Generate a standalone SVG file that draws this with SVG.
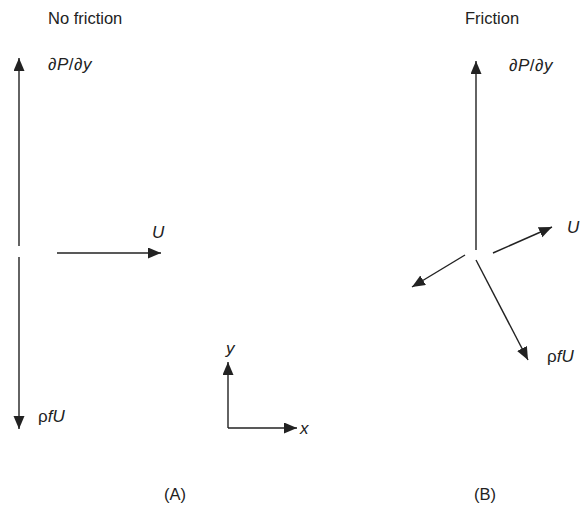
<svg xmlns="http://www.w3.org/2000/svg" width="587" height="515" viewBox="0 0 587 515">
<style>
text{font-family:"Liberation Sans",Arial,sans-serif;font-size:16.5px;fill:#222}
.i{font-style:italic}
.m{font-size:17px}
.a{stroke:#222;stroke-width:1.4;fill:none;marker-end:url(#ah)}
</style>
<defs>
<marker id="ah" markerUnits="userSpaceOnUse" markerWidth="14" markerHeight="12" refX="13" refY="5.5" orient="auto">
<path d="M0,0 L13,5.5 L0,11 z" fill="#222"/>
</marker>
</defs>
<rect width="587" height="515" fill="#fff"/>
<g id="connectors">
<line class="a" x1="19" y1="246" x2="19" y2="58"/>
<line class="a" x1="19" y1="257" x2="19" y2="429"/>
<line class="a" x1="57" y1="253" x2="161" y2="253"/>
<line class="a" x1="228" y1="428" x2="228" y2="362"/>
<line class="a" x1="228" y1="428" x2="297" y2="428"/>
<line class="a" x1="476" y1="250" x2="476" y2="61"/>
<line class="a" x1="493" y1="253" x2="552" y2="227"/>
<line class="a" x1="465" y1="255" x2="412" y2="287"/>
<line class="a" x1="476" y1="260" x2="528" y2="360"/>
</g>
<g id="titleA"><text x="48" y="24">No friction</text></g>
<g id="titleB"><text x="465" y="24">Friction</text></g>
<g id="labelA-dP"><text class="m" x="48" y="70" letter-spacing="0.5">∂<tspan class="i">P</tspan>/∂<tspan class="i">y</tspan></text></g>
<g id="labelB-dP"><text class="m" x="509" y="71" letter-spacing="0.5">∂<tspan class="i">P</tspan>/∂<tspan class="i">y</tspan></text></g>
<g id="labelA-U"><text class="i m" x="152" y="238">U</text></g>
<g id="labelB-U"><text class="i m" x="567" y="233">U</text></g>
<g id="labelA-rfU"><text class="m" x="38" y="422">ρ<tspan class="i">fU</tspan></text></g>
<g id="labelB-rfU"><text class="m" x="547" y="362">ρ<tspan class="i">fU</tspan></text></g>
<g id="axis-y"><text class="i m" x="226" y="354">y</text></g>
<g id="axis-x"><text class="i m" x="300" y="434">x</text></g>
<g id="capA"><text x="164" y="500">(A)</text></g>
<g id="capB"><text x="474" y="500">(B)</text></g>
</svg>
